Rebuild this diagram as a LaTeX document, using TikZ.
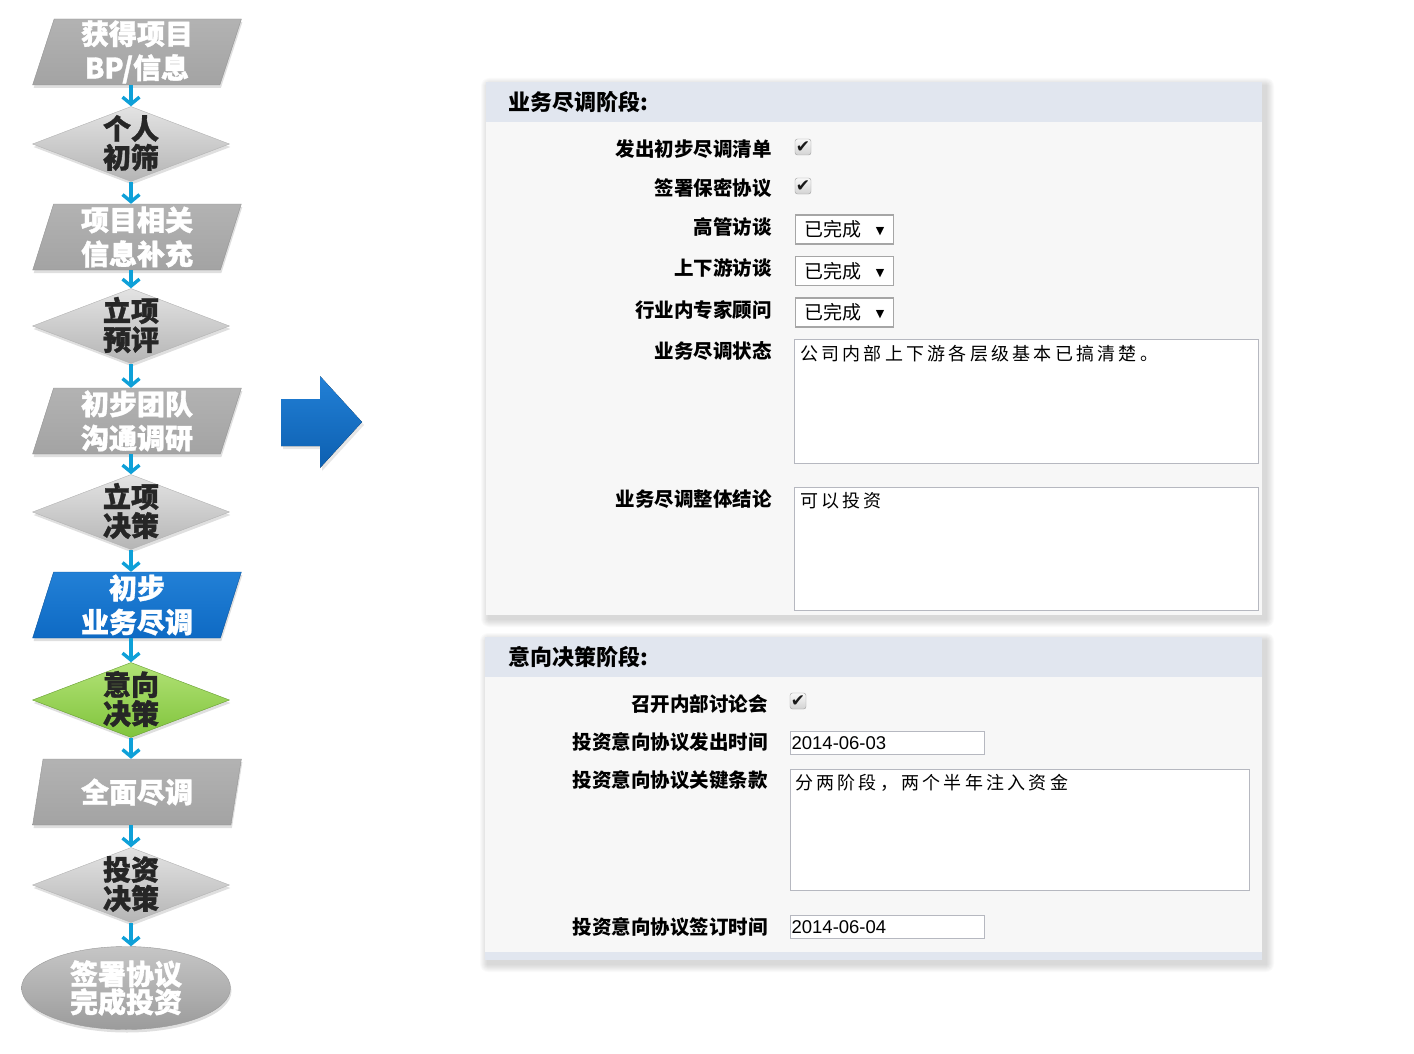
\documentclass[tikz,border=0pt]{standalone}
\usepackage{fontspec}
\setmainfont{Liberation Sans}
\newfontfamily\cjk{Noto Sans CJK SC}
\newfontfamily\cjkwide[LetterSpace=18]{Noto Sans CJK SC}
\newfontfamily\symfont{DejaVu Sans}
\usetikzlibrary{shapes.geometric,arrows.meta,positioning,calc,shadows}

\definecolor{stepblue}{RGB}{14,106,196}
\definecolor{stepbluetop}{RGB}{34,128,214}
\definecolor{stepgreen}{RGB}{128,196,60}
\definecolor{stepgreentop}{RGB}{178,226,118}
\definecolor{linkcyan}{RGB}{14,160,216}
\definecolor{headband}{RGB}{225,230,239}
\definecolor{panelbg}{RGB}{247,247,247}
\definecolor{fieldline}{RGB}{182,184,192}
\definecolor{darktext}{RGB}{38,38,38}

\tikzset{
  procbox/.style={trapezium, trapezium left angle=77, trapezium right angle=103,
    trapezium stretches=true, minimum width=209pt, minimum height=66pt, inner sep=0pt,
    draw=gray!85, top color=gray!60, bottom color=gray!72,
    text=white, align=center,
    font=\cjk\bfseries\addfontfeature{FakeBold=1.2}\fontsize{28}{34}\selectfont,
    drop shadow={opacity=0.25, shadow xshift=1pt, shadow yshift=-3pt}},
  checkdiamond/.style={diamond, minimum width=197pt, minimum height=75pt, inner sep=0pt,
    draw=gray!60, top color=gray!22, bottom color=gray!58,
    drop shadow={opacity=0.25, shadow xshift=1pt, shadow yshift=-3pt}},
  diamondtext/.style={align=center, text=darktext, yshift=1pt,
    font=\cjk\bfseries\addfontfeature{FakeBold=1.2}\fontsize{28}{29}\selectfont},
  flowlink/.style={linkcyan, line width=3.4pt, -{Straight Barb[length=7pt, width=17pt]}},
  formlabel/.style={anchor=east, inner sep=0pt, font=\cjk\bfseries\fontsize{19.5}{20}\selectfont},
  panelhead/.style={anchor=west, inner sep=0pt, font=\cjk\bfseries\fontsize{22}{23}\selectfont},
  checkbox/.style={draw=gray!75, rounded corners=2.5pt, top color=gray!5, bottom color=gray!35,
    minimum size=16pt, inner sep=0pt, text=gray!20!black, font=\symfont\fontsize{17}{17}\selectfont},
  dropbox/.style={draw=gray!70, line width=1.1pt, fill=white, anchor=west, minimum width=98pt,
    minimum height=29pt, inner sep=0pt, font=\cjk\fontsize{19}{20}\selectfont},
  fieldbox/.style={draw=fieldline, line width=1.2pt, fill=white, anchor=north west, inner sep=0pt},
  fieldtext/.style={anchor=north west, inner sep=0pt, font=\cjkwide\fontsize{18}{19}\selectfont},
  datebox/.style={draw=fieldline, line width=1.2pt, fill=white, anchor=north west,
    minimum width=194pt, minimum height=23pt, text width=192pt, inner xsep=1pt, inner ysep=0pt,
    align=left, font=\fontsize{18.5}{19}\selectfont}
}

\newcommand{\dropmark}{\raisebox{2pt}{\symfont\fontsize{11}{11}\selectfont ▼}}

\begin{document}
\begin{tikzpicture}[x=1pt, y=-1pt]
    \useasboundingbox (0,0) rectangle (1414,1054);

    % Flow of the investment steps
    \node[procbox] (getBP) at (137,52) {获得项目\\BP/信息};
    \node[checkdiamond, label={[diamondtext]center:个人\\初筛}] (screen) at (131,144) {};
    \node[procbox] (supplement) at (137,237) {项目相关\\信息补充};
    \node[checkdiamond, label={[diamondtext]center:立项\\预评}] (preReview) at (131,326) {};
    \node[procbox] (teamVisit) at (137,421) {初步团队\\沟通调研};
    \node[checkdiamond, label={[diamondtext]center:立项\\决策}] (approve) at (131,512) {};
    \node[procbox, draw=stepblue!80!black, top color=stepbluetop, bottom color=stepblue] (bizDD) at (137,605) {初步\\业务尽调};
    \node[checkdiamond, draw=stepgreen!80!black, top color=stepgreentop, bottom color=stepgreen,
          label={[diamondtext]center:意向\\决策}] (intent) at (131,700) {};
    \node[procbox] (fullDD) at (137,792) {全面尽调};
    \node[checkdiamond, label={[diamondtext]center:投资\\决策}] (investDecide) at (131,885) {};
    \node[ellipse, minimum width=209pt, minimum height=83pt, inner sep=0pt, draw=gray!80,
          top color=gray!45, bottom color=gray!78,
          drop shadow={opacity=0.25, shadow xshift=1pt, shadow yshift=-3pt},
          label={[align=center, text=white, font=\cjk\bfseries\addfontfeature{FakeBold=1.2}\fontsize{28}{28}\selectfont]center:签署协议\\完成投资}] (signDeal) at (126,988) {};

    % Links between the steps
    \draw[flowlink] (getBP.south -| screen.north) -- (screen.north);
    \draw[flowlink] (screen.south) -- (supplement.north -| screen.south);
    \draw[flowlink] (supplement.south -| preReview.north) -- (preReview.north);
    \draw[flowlink] (preReview.south) -- (teamVisit.north -| preReview.south);
    \draw[flowlink] (teamVisit.south -| approve.north) -- (approve.north);
    \draw[flowlink] (approve.south) -- (bizDD.north -| approve.south);
    \draw[flowlink] (bizDD.south -| intent.north) -- (intent.north);
    \draw[flowlink] (intent.south) -- (fullDD.north -| intent.south);
    \draw[flowlink] (fullDD.south -| investDecide.north) -- (investDecide.north);
    \draw[flowlink] (investDecide.south) -- (signDeal.north -| investDecide.south);

    % Big blue arrow
    \fill[top color=stepbluetop, bottom color=stepblue!90!black,
          drop shadow={opacity=0.2, shadow xshift=2pt, shadow yshift=-3pt}]
        (281,399) -- (320,399) -- (320,376) -- (362,422) -- (320,468) -- (320,446) -- (281,446) -- cycle;

    % Panel shadows
    \foreach \s in {1,...,8} {
        \fill[black, opacity=0.018, rounded corners=\s pt] ({489-\s},{86-\s}) rectangle ({1266+\s},{619+\s});
        \fill[black, opacity=0.018, rounded corners=\s pt] ({488-\s},{641-\s}) rectangle ({1266+\s},{964+\s});
    }

    % Business due diligence panel
    \fill[panelbg] (486,122) rectangle (1262,615);
    \fill[headband] (486,82) rectangle (1262,122);
    \node[panelhead] (ddHead) at (508,102) {业务尽调阶段:};

    \node[formlabel] (lblList) at (772,149) {发出初步尽调清单};
    \node[checkbox] (chkList) at (803,147) {✔};
    \node[formlabel] (lblNDA) at (772,188) {签署保密协议};
    \node[checkbox] (chkNDA) at (803,186) {✔};
    \node[formlabel] (lblMgmt) at (772,227) {高管访谈};
    \node[dropbox] (dropMgmt) at (795,229.5) {已完成\hspace{14pt}\dropmark};
    \node[formlabel] (lblChain) at (772,268) {上下游访谈};
    \node[dropbox] (dropChain) at (795,271) {已完成\hspace{14pt}\dropmark};
    \node[formlabel] (lblExpert) at (772,310) {行业内专家顾问};
    \node[dropbox] (dropExpert) at (795,312.5) {已完成\hspace{14pt}\dropmark};
    \node[formlabel] (lblState) at (772,351) {业务尽调状态};
    \node[fieldbox, minimum width=464pt, minimum height=124pt] (stateBox) at (794,339) {};
    \node[fieldtext, below right=6pt and 6pt of stateBox.north west] (stateText) {公司内部上下游各层级基本已搞清楚。};
    \node[formlabel] (lblResult) at (772,499) {业务尽调整体结论};
    \node[fieldbox, minimum width=464pt, minimum height=123pt] (resultBox) at (794,487) {};
    \node[fieldtext, below right=5pt and 6pt of resultBox.north west] (resultText) {可以投资};

    % Intention decision panel
    \fill[panelbg] (485,677) rectangle (1262,952);
    \fill[headband] (485,637) rectangle (1262,677);
    \fill[headband] (485,952) rectangle (1262,960);
    \node[panelhead] (intentHead) at (508,657) {意向决策阶段:};

    \node[formlabel] (lblMeeting) at (768,704) {召开内部讨论会};
    \node[checkbox] (chkMeeting) at (798,701) {✔};
    \node[formlabel] (lblSent) at (768,742) {投资意向协议发出时间};
    \node[datebox] (sentDate) at (790,731) {2014-06-03};
    \node[formlabel] (lblTerms) at (768,780) {投资意向协议关键条款};
    \node[fieldbox, minimum width=459pt, minimum height=121pt] (termsBox) at (790,769) {};
    \node[fieldtext, below right=5pt and 5pt of termsBox.north west] (termsText) {分两阶段，两个半年注入资金};
    \node[formlabel] (lblSigned) at (768,927) {投资意向协议签订时间};
    \node[datebox] (signedDate) at (790,915) {2014-06-04};
\end{tikzpicture}
\end{document}
